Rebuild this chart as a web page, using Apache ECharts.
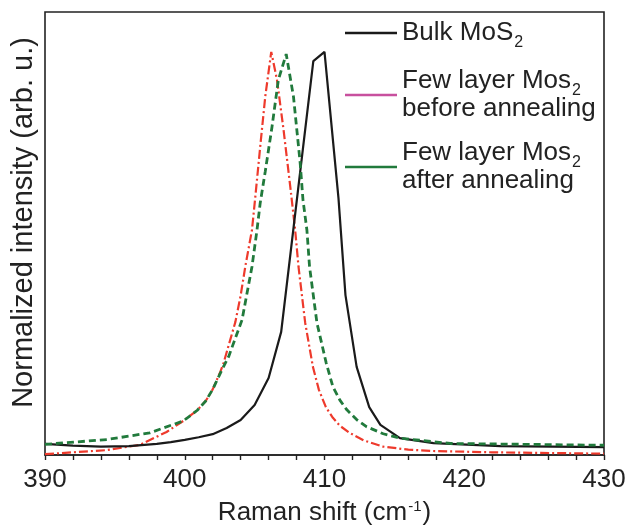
<!DOCTYPE html>
<html>
<head>
<meta charset="utf-8">
<script src="https://cdn.jsdelivr.net/npm/echarts@6/dist/echarts.min.js"></script>
<style>
  html, body { margin: 0; padding: 0; background: #fff; }
  #chart { width: 637px; height: 525px; }
</style>
</head>
<body>
<div id="chart"></div>
<script>
// Raman shift (cm-1) vs normalized intensity
const xLabels = [390, 400, 410, 420, 430]

const bulkData = [
  [390, 0.025], [392, 0.021], [394, 0.019], [396, 0.020], [398, 0.025],
  [399, 0.029], [400, 0.034], [401, 0.040], [402, 0.047], [403, 0.061],
  [404, 0.079], [405, 0.113], [406, 0.174], [406.9, 0.278], [409.2, 0.889],
  [410, 0.910], [411, 0.580], [411.5, 0.361], [412.3, 0.199], [413.2, 0.108],
  [414, 0.068], [415.4, 0.038], [417.8, 0.027], [422.6, 0.020], [430, 0.018],
]

const beforeData = [
  [390, 0.002], [392, 0.006], [394.4, 0.011], [396.8, 0.023], [398.7, 0.052],
  [399.9, 0.077], [400.9, 0.101], [401.5, 0.122], [402.0, 0.148], [402.55, 0.188],
  [402.78, 0.208], [403.0, 0.232], [403.62, 0.300], [404.0, 0.360], [404.33, 0.425],
  [404.81, 0.508], [405.05, 0.583], [405.4, 0.696], [405.76, 0.809], [406.19, 0.910],
  [406.6, 0.847], [407.07, 0.734], [407.55, 0.606], [407.9, 0.508], [408.14, 0.425],
  [408.62, 0.298], [409.17, 0.199], [409.6, 0.147], [410.1, 0.108], [410.6, 0.084],
  [411.1, 0.066], [411.8, 0.050], [412.8, 0.033], [414.2, 0.019], [416, 0.012],
  [417.8, 0.009], [422, 0.006], [430, 0.003],
]

const afterData = [
  [390, 0.024], [394.45, 0.035], [397.5, 0.050], [399.9, 0.077], [400.9, 0.101],
  [401.5, 0.122], [402.0, 0.148], [402.55, 0.185], [403.14, 0.222], [404.1, 0.305],
  [404.81, 0.425], [405.17, 0.508], [405.4, 0.569], [405.76, 0.640], [406.24, 0.740],
  [406.7, 0.847], [407.26, 0.905], [407.78, 0.809], [408.26, 0.659], [408.46, 0.576],
  [408.74, 0.508], [408.93, 0.425], [409.46, 0.298], [410.12, 0.208], [410.6, 0.154],
  [411.1, 0.124], [411.6, 0.102], [412.3, 0.080], [413.0, 0.064], [414.2, 0.048],
  [415.4, 0.038], [419, 0.026], [430, 0.022],
]

const legendText = {
  bulk: 'Bulk MoS{sub|2}',
  before: 'Few layer Mos{sub|2}\nbefore annealing',
  after: 'Few layer Mos{sub|2}\nafter annealing',
}

const FONT = 'Liberation Sans, Arial, sans-serif'
const chart = echarts.init(document.getElementById('chart'))

chart.setOption({
  animation: false,
  textStyle: { fontFamily: FONT },
  grid: {
    left: 45, right: 33, top: 12, bottom: 70,
    outerBoundsMode: 'none',
    containLabel: false,
    show: true, borderColor: '#222', borderWidth: 1.6,
  },
  legend: {
    orient: 'vertical',
    left: 340,
    top: 14,
    itemWidth: 52,
    itemHeight: 2.6,
    itemGap: 16,
    data: [
      { name: 'bulk', icon: 'rect', itemStyle: { color: '#1a1a1a' } },
      { name: 'before', icon: 'rect', itemStyle: { color: '#c8509e' } },
      { name: 'after', icon: 'rect', itemStyle: { color: '#217a3c' } },
    ],
    formatter: (name) => legendText[name],
    textStyle: {
      fontFamily: FONT,
      fontSize: 26,
      lineHeight: 28,
      color: '#222',
      rich: {
        sub: { fontSize: 16, verticalAlign: 'top', padding: [16, 0, 0, 1], fontFamily: FONT, color: '#222' },
      },
    },
  },
  xAxis: {
    type: 'value',
    min: 390,
    max: 430,
    interval: 2,
    axisLine: { show: true, lineStyle: { color: '#222', width: 1.6 } },
    axisTick: { show: true, inside: false, length: 5, lineStyle: { color: '#222', width: 1.4 } },
    splitLine: { show: false },
    axisLabel: {
      color: '#222',
      fontSize: 26,
      fontFamily: FONT,
      margin: 12,
      formatter: (v) => (xLabels.includes(v) ? String(v) : ''),
    },
    name: 'Raman shift (cm{sup|-1})',
    nameLocation: 'middle',
    nameGap: 44,
    nameTextStyle: {
      fontSize: 26,
      color: '#222',
      fontFamily: FONT,
      rich: {
        sup: { fontSize: 15, verticalAlign: 'top', padding: [0, 1, 12, 1], fontFamily: FONT, color: '#222' },
      },
    },
  },
  yAxis: {
    type: 'value',
    min: 0,
    max: 1,
    axisLine: { show: false },
    axisTick: { show: false },
    axisLabel: { show: false },
    splitLine: { show: false },
    name: 'Normalized intensity (arb. u.)',
    nameLocation: 'middle',
    nameGap: 7,
    nameTextStyle: { fontSize: 29, color: '#222', fontFamily: FONT, padding: [0, 0, 0, 22] },
  },
  series: [
    {
      name: 'bulk',
      type: 'line',
      data: bulkData,
      symbol: 'none',
      z: 3,
      itemStyle: { color: '#1a1a1a' },
      lineStyle: { color: '#1a1a1a', width: 2.2 },
    },
    {
      name: 'before',
      type: 'line',
      data: beforeData,
      symbol: 'none',
      z: 2,
      itemStyle: { color: '#ee3a2c' },
      lineStyle: { color: '#ee3a2c', width: 2.2, type: [9, 3, 2, 3] },
    },
    {
      name: 'after',
      type: 'line',
      data: afterData,
      symbol: 'none',
      z: 4,
      itemStyle: { color: '#217a3c' },
      lineStyle: { color: '#217a3c', width: 2.8, type: [7, 4] },
    },
  ],
})
</script>
</body>
</html>
